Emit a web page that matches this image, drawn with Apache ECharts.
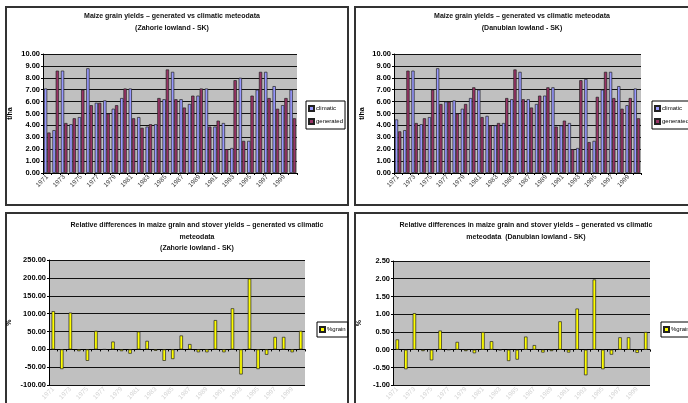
<!DOCTYPE html>
<html><head><meta charset="utf-8">
<script src="https://cdn.jsdelivr.net/npm/echarts@6/dist/echarts.min.js"></script>
<style>html,body{margin:0;padding:0;background:#fff}#c{width:688px;height:403px}</style>
</head><body><div id="c"></div>
<script>
const years = ['1971','1972','1973','1974','1975','1976','1977','1978','1979','1980','1981','1982','1983','1984','1985','1986','1987','1988','1989','1990','1991','1992','1993','1994','1995','1996','1997','1998','1999','2000'];
const climaticA = [7.1,3.6,8.6,4.1,4.7,8.8,5.9,6.1,5.4,6.3,7.1,4.7,3.9,4.1,6.2,8.5,6.2,5.8,6.5,7.1,3.9,4.2,2.1,8.0,2.7,7.0,8.5,7.3,5.7,7.0];
const generatedA = [3.4,8.6,4.2,4.6,7.0,5.7,5.9,5.0,5.7,7.1,4.6,3.8,4.1,6.3,8.7,6.2,5.5,6.5,7.1,3.9,4.4,2.0,7.8,2.7,6.5,8.5,6.3,5.4,6.3,4.6];
const climaticB = [4.5,3.6,8.6,4.1,4.7,8.8,6.0,6.1,5.4,6.3,7.0,4.8,4.0,4.2,6.2,8.5,6.2,5.8,6.5,7.2,4.0,4.2,2.1,7.9,2.7,7.0,8.5,7.3,5.7,7.1];
const generatedB = [3.5,8.6,4.2,4.6,7.0,5.8,6.0,5.0,5.8,7.2,4.7,4.0,4.2,6.3,8.7,6.2,5.5,6.5,7.2,3.9,4.4,2.0,7.8,2.6,6.4,8.5,6.3,5.4,6.3,4.6];
const relDiffA = [107,-55,103,-5,-32,52,0,22,-5,-12,50,24,-4,-32,-27,39,15,-8,-8,82,-8,115,-70,198,-55,-15,35,35,-8,52];
const relDiffB = [0.29,-0.55,1.03,-0.04,-0.30,0.54,0,0.22,-0.04,-0.10,0.50,0.24,-0.01,-0.32,-0.28,0.37,0.13,-0.08,-0.04,0.80,-0.08,1.16,-0.72,1.98,-0.55,-0.14,0.35,0.35,-0.09,0.50];
const titleA1 = 'Maize grain yields – generated vs climatic meteodata';
const titleA2 = '(Zahorie lowland - SK)';
const titleB2 = '(Danubian lowland - SK)';
const titleC1 = 'Relative differences in maize grain and stover yields – generated vs climatic';
const titleC2 = 'meteodata';
const titleD2 = 'meteodata  (Danubian lowland - SK)';

const FONT = '"Liberation Sans", Arial, sans-serif';
const chart = echarts.init(document.getElementById('c'), null, {renderer: 'canvas'});

const grids = [
  {left: 43, top: 54, width: 254, height: 119},
  {left: 394, top: 54, width: 247, height: 119},
  {left: 49, top: 260, width: 256, height: 134},
  {left: 393, top: 261, width: 257, height: 133}
].map(g => Object.assign(g, {show: true, backgroundColor: '#c0c0c0', borderWidth: 0}));

function xAx(i, bottom) {
  return {
    type: 'category', gridIndex: i, data: years,
    axisLine: {onZero: true, lineStyle: {color: '#000', width: 1}},
    axisTick: {show: true, length: 2, interval: 0, lineStyle: {color: '#000'}},
    axisLabel: {interval: 1, rotate: 45, fontSize: 6.5, fontFamily: FONT, margin: 3,
      color: bottom ? '#d4d4d4' : '#444'}
  };
}
function yAx(i, min, max, step, name, gap) {
  return {
    type: 'value', gridIndex: i, min: min, max: max, interval: step,
    name: name, nameLocation: 'middle', nameGap: gap, nameRotate: 90,
    nameTextStyle: {fontSize: 7, fontFamily: FONT, color: '#000', fontWeight: 'bold'},
    axisLine: {show: true, lineStyle: {color: '#000', width: 1}},
    axisTick: {show: true, length: 2, lineStyle: {color: '#000'}},
    splitLine: {show: true, lineStyle: {color: '#111', width: 1}},
    axisLabel: {fontSize: 7.5, fontFamily: FONT, color: '#000', fontWeight: 'bold', margin: 3,
      formatter: v => v.toFixed(2)}
  };
}

const border = '#222';
function barSeries(name, data, idx, color, extra) {
  return Object.assign({
    type: 'bar', name: name, data: data, xAxisIndex: idx, yAxisIndex: idx,
    itemStyle: {color: color, borderColor: border, borderWidth: 0.7},
    barGap: '0%', barCategoryGap: '22%', silent: true, animation: false
  }, extra || {});
}

function legendAt(left, top, names) {
  return {
    left: left, top: top, orient: 'vertical', data: names,
    icon: 'rect', itemWidth: 5, itemHeight: 5, itemGap: 6,
    borderColor: '#000', borderWidth: 1, padding: [4, 2, 4, 2],
    backgroundColor: '#fff',
    textStyle: {fontSize: 6, fontFamily: FONT, color: '#000', padding: [0,0,0,-3]},
    selectedMode: false
  };
}

function txt(x, y, s, size) {
  return {type: 'text', x: x, y: y, silent: true, z: 10,
    style: {text: s, textAlign: 'center', textVerticalAlign: 'middle',
      font: 'bold ' + (size || 7) + 'px ' + FONT, fill: '#111'}};
}
function box(x, y, w, h) {
  return {type: 'rect', shape: {x: x, y: y, width: w, height: h}, silent: true, z: -1,
    style: {fill: 'none', stroke: '#333', lineWidth: 2}};
}

const option = {
  backgroundColor: '#fff',
  animation: false,
  grid: grids,
  xAxis: [xAx(0, false), xAx(1, false), xAx(2, true), xAx(3, true)],
  yAxis: [
    yAx(0, 0, 10, 1, 't/ha', 29),
    yAx(1, 0, 10, 1, 't/ha', 28),
    yAx(2, -100, 250, 50, '%', 36),
    yAx(3, -1, 2.5, 0.5, '%', 30)
  ],
  legend: [
    legendAt(306, 101, ['climatic', 'generated']),
    legendAt(652, 101, ['climatic ', 'generated ']),
    legendAt(317, 322, ['%grain']),
    legendAt(661, 322, ['%grain '])
  ],
  series: [
    barSeries('climatic', climaticA, 0, '#9999ff'),
    barSeries('generated', generatedA, 0, '#993366'),
    barSeries('climatic ', climaticB, 1, '#9999ff'),
    barSeries('generated ', generatedB, 1, '#993366'),
    barSeries('%grain', relDiffA, 2, '#ffff00', {barCategoryGap: '60%'}),
    barSeries('%grain ', relDiffB, 3, '#ffff00', {barCategoryGap: '60%'})
  ],
  graphic: [
    box(6, 7, 342, 198),
    box(355, 7, 340, 198),
    box(6, 213, 342, 200),
    box(355, 213, 340, 200),
    txt(172, 16, titleA1), txt(172, 28, titleA2),
    txt(522, 16, titleA1), txt(522, 28, titleB2),
    txt(197, 225, titleC1), txt(197, 237, titleC2), txt(197, 248, titleA2),
    txt(526, 225, titleC1), txt(526, 237, titleD2)
  ]
};
chart.setOption(option);
</script>
</body></html>
